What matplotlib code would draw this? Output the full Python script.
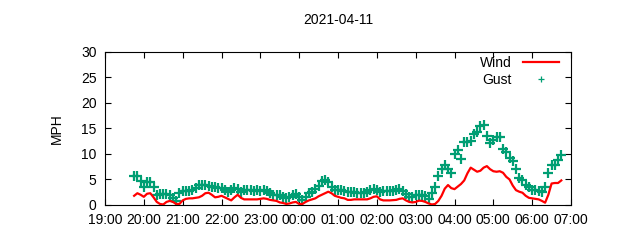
import matplotlib
matplotlib.use("Agg")
import matplotlib.pyplot as plt
import matplotlib.dates as mdates
import pandas as pd

plt.rcParams['font.family'] = ['Liberation Sans', 'DejaVu Sans']

title = "2021-04-11"
start_time = "2021-04-10 19:45"
step = "5min"

wind = [1.8, 2.3, 2.0, 1.6, 2.2, 2.3, 1.5, 0.6, 0.2, 0.1, 0.6, 0.8,
        0.6, 0.2, 0.2, 0.9, 1.2, 1.3, 1.3, 1.4, 1.5, 1.8, 2.3, 2.4,
        2.0, 1.5, 1.6, 1.8, 1.5, 1.2, 0.9, 1.5, 2.0, 1.4, 1.1, 1.1,
        1.1, 1.1, 1.1, 1.2, 1.3, 1.2, 1.0, 0.9, 0.8, 0.5, 0.4, 0.2,
        0.3, 0.5, 0.6, 0.2, 0.2, 0.6, 0.9, 1.1, 1.3, 1.7, 2.0, 2.3,
        2.6, 2.3, 1.8, 1.6, 1.4, 1.3, 1.0, 1.0, 1.1, 1.1, 1.1, 1.1,
        1.1, 1.3, 1.6, 1.7, 1.1, 0.9, 0.9, 0.9, 0.95, 1.0, 1.2, 1.3,
        0.9, 0.6, 0.5, 0.6, 0.85, 0.8, 0.6, 0.3, 0.1, 0.2, 0.8, 1.8,
        3.2, 3.9, 3.3, 3.1, 3.6, 4.1, 4.8, 6.2, 7.3, 6.9, 6.5, 6.7,
        7.3, 7.6, 7.0, 6.6, 6.5, 6.6, 6.3, 5.5, 5.0, 3.8, 2.9, 2.6,
        2.4, 1.8, 1.4, 1.3, 1.2, 1.1, 0.8, 0.45, 2.0, 4.2, 4.3, 4.3,
        4.8]

gust = [5.7, 5.7, 4.6, 3.6, 4.5, 4.5, 3.6, 1.9, 2.2, 2.2, 2.2, 2.0,
        1.3, 0.7, 2.4, 2.7, 2.8, 2.8, 2.9, 3.4, 3.9, 3.9, 3.9, 3.7,
        3.5, 3.5, 3.4, 3.4, 3.0, 2.6, 3.0, 3.3, 3.2, 2.6, 2.9, 2.9,
        2.9, 2.8, 2.9, 2.8, 2.9, 2.8, 2.3, 2.0, 1.9, 1.9, 1.6, 1.3,
        1.6, 1.9, 2.1, 1.6, 1.0, 1.6, 2.3, 2.6, 3.1, 3.8, 4.6, 4.9,
        4.4, 3.5, 3.0, 2.9, 2.9, 2.8, 2.6, 2.6, 2.6, 2.4, 2.4, 2.4,
        2.5, 2.9, 3.1, 3.0, 2.6, 2.7, 2.7, 2.7, 2.7, 3.0, 3.2, 2.7,
        2.2, 1.5, 1.6, 1.95, 1.95, 1.9, 1.7, 1.1, 2.4, 3.6, 5.6, 7.0,
        7.9, 7.0, 6.3, 10.0, 10.8, 9.0, 12.3, 12.4, 12.5, 13.8, 14.2, 15.4,
        15.6, 13.5, 12.2, 12.8, 13.2, 13.2, 11.0, 10.3, 9.2, 8.6, 7.0, 5.2,
        4.8, 3.9, 3.6, 2.9, 2.9, 2.7, 2.6, 3.5, 6.2, 7.8, 7.9, 8.8,
        9.8]

tick_labels = ["19:00", "20:00", "21:00", "22:00", "23:00", "00:00", "01:00",
               "02:00", "03:00", "04:00", "05:00", "06:00", "07:00"]
yticks = [0, 5, 10, 15, 20, 25, 30]

times = pd.date_range(start_time, periods=len(wind), freq=step)
tick_pos = pd.date_range("2021-04-10 19:00", periods=len(tick_labels), freq="1h")

fig = plt.figure(figsize=(6.4, 2.4), dpi=100)
ax = fig.add_axes([105/640, 1-205/240, (571-105)/640, (205-51.5)/240])

ax.plot(times, wind, color="#ff0000", lw=1.6, label="Wind", zorder=3)
ax.plot(times, gust, ls="none", marker="+", ms=7.5, mew=1.6, color="#009e73",
        label="Gust", zorder=2)

ax.set_xlim(tick_pos[0], tick_pos[-1])
ax.set_ylim(0, 30)
ax.set_xticks(tick_pos)
ax.set_xticklabels(tick_labels)
ax.set_yticks(yticks)
ax.tick_params(direction="in", length=4, width=0.8, top=True, right=True,
               labelsize=10, pad=6)
ax.set_ylabel("MPH", fontsize=10, labelpad=12)
ax.set_title(title, fontsize=10, pad=20)
for s in ax.spines.values():
    s.set_linewidth(0.8)

leg = ax.legend(loc="upper right", bbox_to_anchor=(0.995, 1.035), frameon=False,
                markerfirst=False, fontsize=10, handlelength=2.6,
                labelspacing=0.25, borderaxespad=0.3, handletextpad=0.8)
leg.legend_handles[1].set_markersize(5)
leg.legend_handles[1].set_markeredgewidth(0.9)

fig.savefig("out.png", dpi=100)
